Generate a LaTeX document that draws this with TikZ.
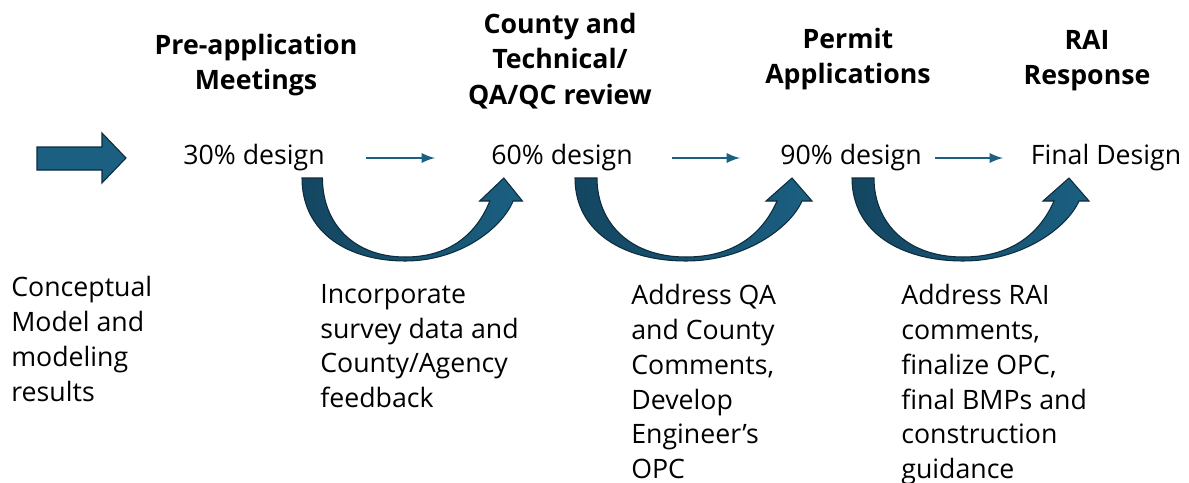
\documentclass[tikz,border=0pt]{standalone}
\usepackage{fontspec}
\setmainfont{Open Sans}
\usetikzlibrary{positioning}
\definecolor{arrowblue}{RGB}{27,95,129}
\definecolor{arrowdark}{RGB}{20,70,97}
\definecolor{arrowline}{RGB}{12,44,61}

\begin{document}
\begin{tikzpicture}[x=0.02cm,y=-0.02cm,
  design/.style={font=\fontsize{15.2}{20}\selectfont, inner sep=0pt},
  stage/.style={font=\bfseries\fontsize{15.2}{20}\selectfont, align=center, inner sep=0pt},
  note/.style={font=\fontsize{15.2}{19.8}\selectfont, align=left, anchor=north west, inner sep=0pt},
  flow/.style={->, >=latex, draw=arrowblue, line width=1.6pt},
  bendarrow/.pic={
    \shade[left color=arrowdark, right color=arrowblue, draw=arrowline, line width=0.6pt]
      (0,0) .. controls (0,55) and (50,83) .. (111,83)
      .. controls (170,83) and (215,50) .. (227,23)
      -- (237,23) -- (217,0) -- (191,23) -- (202,23)
      .. controls (188,55) and (160,79) .. (111,79)
      .. controls (55,79) and (22,45) .. (22,0) -- cycle;
  }]
  \useasboundingbox (0,0) rectangle (1189,483);

  % start arrow
  \fill[arrowblue, draw=arrowline, line width=0.6pt]
    (37,147) -- (102,147) -- (102,133) -- (126,158) -- (102,183) -- (102,170) -- (37,170) -- cycle;

  % stages
  \node[stage] (pre)    at (256,65) {Pre-application\\Meetings};
  \node[stage] (county) at (560,61) {County and\\Technical/\\QA/QC review};
  \node[stage] (permit) at (848,59) {Permit\\Applications};
  \node[stage] (rai)    at (1087,61) {RAI\\Response};

  % design levels
  \node[design] (d30)  at (254,158) {30\% design};
  \node[design] (d60)  at (562,158) {60\% design};
  \node[design] (d90)  at (851,158) {90\% design};
  \node[design] (dfin) at (1106,158) {Final Design};

  \draw[flow, shorten <=2.24cm, shorten >=2.54cm] (d30.center) -- (d60.center);
  \draw[flow, shorten <=2.2cm, shorten >=2.22cm] (d60.center) -- (d90.center);
  \draw[flow, shorten <=1.68cm, shorten >=2.06cm] (d90.center) -- (dfin.center);

  % loops
  \pic[xscale=0.93] at (302,178) {bendarrow};
  \pic at (575,178) {bendarrow};
  \pic at (852,178) {bendarrow};

  % tasks
  \node[note] (concept) at (11,276) {Conceptual\\Model and\\modeling\\results};
  \node[note] (task1) at (320,284) {Incorporate\\survey data and\\County/Agency\\feedback};
  \node[note] (task2) at (631,284) {Address QA\\and County\\Comments,\\Develop\\Engineer’s\\OPC};
  \node[note] (task3) at (901,284) {Address RAI\\comments,\\finalize OPC,\\final BMPs and\\construction\\guidance};
\end{tikzpicture}
\end{document}
